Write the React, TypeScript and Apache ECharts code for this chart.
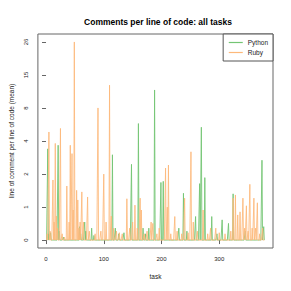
import React, { useEffect, useRef } from "react";
import * as echarts from "echarts";

// Mean comment lines per line of code, per task (tasks not listed are 0).
const TASK_COUNT = 378;
const pythonMeans: [number, number][] = [
  [3, 3.57], [5, 0.11], [8, 0.13], [21, 3.85], [23, 0.16], [30, 0.05], [58, 0.25], [60, 0.11],
  [67, 0.35], [69, 0.16], [79, 0.22], [83, 0.08], [115, 3.14], [120, 0.22], [126, 0.11], [135, 0.13],
  [148, 2.53], [160, 5.96], [168, 0.22], [172, 0.11], [178, 0.22], [188, 11.18], [199, 1.61], [203, 1.66],
  [230, 0.22], [238, 1.18], [244, 0.16], [259, 0.48], [266, 1.56], [269, 5.55], [275, 1.83], [287, 0.48],
  [296, 0.11], [305, 0.4], [316, 0.32], [324, 1.16], [345, 0.16], [374, 2.78], [377, 0.25],
];
const rubyMeans: [number, number][] = [
  [2, 0.11], [5, 5.05], [7, 0.16], [12, 1.72], [14, 0.35], [16, 4.0], [18, 0.49], [20, 0.22],
  [25, 5.42], [28, 0.11], [32, 0.05], [36, 1.46], [40, 0.35], [42, 3.85], [45, 3.22], [47, 0.65],
  [49, 26.1], [53, 1.29], [55, 0.95], [57, 0.22], [59, 0.35], [62, 1.23], [65, 0.35], [72, 1.05],
  [75, 0.16], [85, 0.11], [90, 8.03], [95, 0.16], [100, 2.0], [104, 0.35], [110, 12.2], [113, 0.49],
  [117, 0.22], [122, 0.16], [127, 0.13], [132, 0.11], [140, 0.99], [145, 0.22], [150, 0.35], [154, 0.79],
  [158, 0.22], [163, 1.01], [165, 0.65], [170, 0.11], [175, 0.16], [182, 0.35], [185, 0.32], [192, 0.11],
  [196, 0.22], [207, 2.32], [210, 0.73], [212, 2.49], [216, 0.11], [223, 0.48], [227, 0.16], [235, 0.11],
  [240, 1.01], [246, 0.13], [251, 3.35], [255, 0.35], [262, 0.16], [272, 0.65], [280, 0.11], [285, 0.22],
  [294, 0.22], [300, 0.13], [310, 0.11], [320, 0.16], [324, 1.01], [328, 1.12], [332, 0.52], [336, 0.6],
  [341, 1.01], [344, 0.22], [347, 0.77], [350, 0.16], [353, 1.53], [357, 0.22], [360, 1.01], [363, 0.22],
  [366, 0.86], [370, 0.11], [375, 0.22],
];
// Tick positions on the log(1 + x) scale
const yTicks = [0, 0.55, 1.1, 1.65, 2.2, 2.75, 3.3];
const xTicks = [0, 100, 200, 300];

function buildSeries(pairs: [number, number][]): [number, number][] {
  const m = new Map<number, number>(pairs);
  const out: [number, number][] = [];
  for (let t = 1; t <= TASK_COUNT; t++) {
    out.push([t, Math.log1p(m.get(t) ?? 0)]);
  }
  return out;
}

const FONT = "Liberation Sans, Arial, Helvetica, sans-serif";
const PY_COLOR = "#74c574";
const RB_COLOR = "#fdb97a";

export default function App() {
  const ref = useRef<HTMLDivElement>(null);
  useEffect(() => {
    if (!ref.current) return;
    const chart = echarts.init(ref.current, undefined, { renderer: "svg" });
    const xPad = (TASK_COUNT - 1) * 0.04;
    const yMax = yTicks[yTicks.length - 1];
    chart.setOption({
      animation: false,
      backgroundColor: "#ffffff",
      title: {
        text: "Comments per line of code: all tasks",
        left: 153,
        top: 12,
        textAlign: "center",
        textStyle: { fontFamily: FONT, fontSize: 8.5, fontWeight: "bold", color: "#000" },
      },
      legend: {
        orient: "vertical",
        right: 18,
        top: 34,
        padding: [5, 5, 5, 5],
        itemGap: 3,
        itemWidth: 14,
        itemHeight: 6,
        borderColor: "#555",
        borderWidth: 1,
        backgroundColor: "#fff",
        itemStyle: { opacity: 0 },
        lineStyle: { width: 1.2, opacity: 1 },
        textStyle: { fontFamily: FONT, fontSize: 6.5, color: "#222" },
        data: ["Python", "Ruby"],
      },
      grid: {
        left: 33,
        right: 18,
        top: 34,
        bottom: 43,
        show: true,
        borderColor: "#666",
        borderWidth: 1,
      },
      xAxis: {
        type: "value",
        min: 1 - xPad,
        max: TASK_COUNT + xPad,
        name: "task",
        nameLocation: "middle",
        nameGap: 25,
        nameTextStyle: { fontFamily: FONT, fontSize: 6.5, color: "#222" },
        axisLine: { show: false },
        splitLine: { show: false },
        axisTick: { show: true, length: 4, customValues: xTicks, lineStyle: { color: "#666" } },
        axisLabel: {
          customValues: xTicks,
          margin: 8,
          fontFamily: FONT,
          fontSize: 6,
          color: "#222",
        },
      },
      yAxis: {
        type: "value",
        min: -yMax * 0.04,
        max: yMax * 1.04,
        name: "line of comment per line of code (mean)",
        nameLocation: "middle",
        nameGap: 19,
        nameTextStyle: { fontFamily: FONT, fontSize: 6.5, color: "#222" },
        axisLine: { show: false },
        splitLine: { show: false },
        axisTick: { show: true, length: 4, customValues: yTicks, lineStyle: { color: "#666" } },
        axisLabel: {
          customValues: yTicks,
          rotate: 90,
          margin: 9,
          fontFamily: FONT,
          fontSize: 6,
          color: "#222",
          formatter: (v: number) => String(Math.round(Math.expm1(v))),
        },
      },
      series: [
        {
          name: "Python",
          type: "line",
          symbol: "none",
          data: buildSeries(pythonMeans),
          lineStyle: { width: 1, color: PY_COLOR, opacity: 0.9 },
          itemStyle: { color: PY_COLOR },
        },
        {
          name: "Ruby",
          type: "line",
          symbol: "none",
          data: buildSeries(rubyMeans),
          lineStyle: { width: 1, color: RB_COLOR, opacity: 0.85 },
          itemStyle: { color: RB_COLOR },
        },
      ],
    });
    return () => chart.dispose();
  }, []);
  return (
    <div
      ref={ref}
      style={{ position: "fixed", left: 0, top: 0, width: 291, height: 291, background: "#fff" }}
    />
  );
}
